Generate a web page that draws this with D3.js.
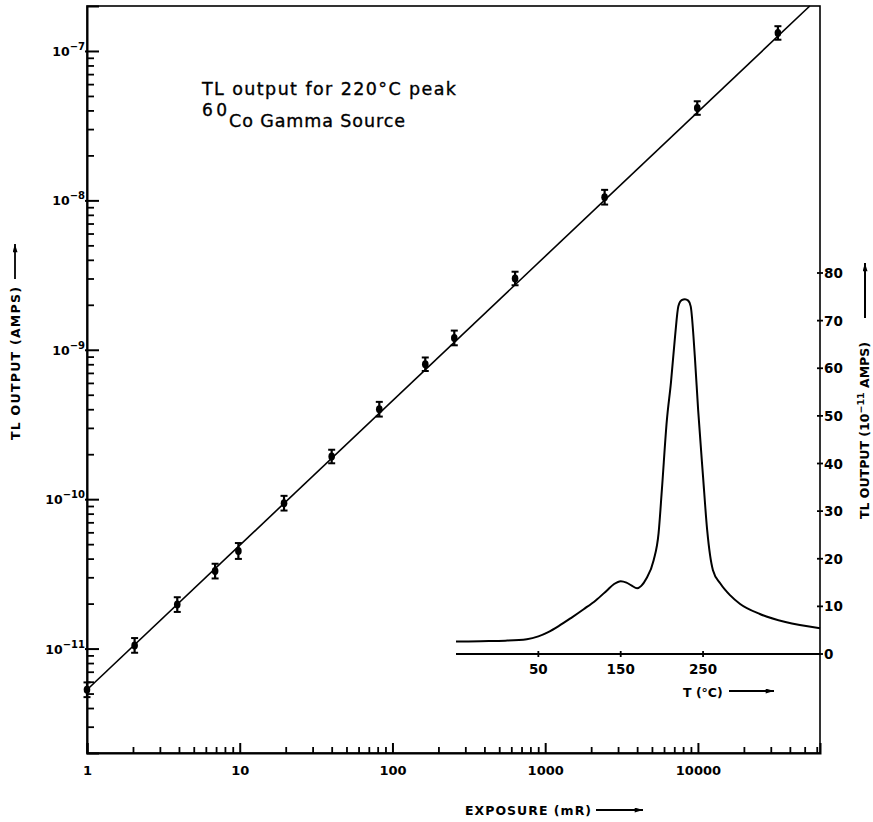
<!DOCTYPE html>
<html>
<head>
<meta charset="utf-8">
<script src="https://cdn.jsdelivr.net/npm/d3@7"></script>
<style>
  body { margin: 0; background: #fff; }
  svg { display: block; }
  text { font-family: "DejaVu Sans", sans-serif; fill: #000; }
</style>
</head>
<body>
<div id="chart"></div>
<script>
// exposure (mR) vs TL output (amps), 220 C peak
var exposure = [1, 2.05, 3.9, 6.9, 9.8, 19.5, 40, 82, 164, 254, 635, 2450, 9900, 33400];
var tlOutput = [5.3e-12, 1.05e-11, 1.97e-11, 3.3e-11, 4.5e-11, 9.4e-11, 1.93e-10, 4.0e-10, 8.0e-10, 1.2e-9, 3.0e-9, 1.05e-8, 4.15e-8, 1.32e-7];
var tlErr = [0.12, 0.12, 0.12, 0.12, 0.13, 0.12, 0.11, 0.12, 0.11, 0.12, 0.11, 0.12, 0.11, 0.11];

// fitted straight line (end points)
var fitX = [1, 54000];
var fitY = [5.3e-12, 2.0e-7];

// tick labels
var xTickVals = [1, 10, 100, 1000, 10000];
var yTickExp = [-7, -8, -9, -10, -11];

// inset glow curve: T (C) vs TL output (1e-11 amps)
var glowT = [-50, -20, 10, 36, 50, 62, 75, 90, 105, 120, 133, 142, 150, 157, 163, 170, 175, 181, 190, 196, 200, 206, 211, 216, 220, 224, 228, 232, 235, 240, 244, 250, 255, 262, 271, 283, 295, 319, 350, 392];
var glowV = [2.6, 2.7, 2.8, 3.1, 3.7, 4.6, 5.9, 7.6, 9.4, 11.3, 13.3, 14.7, 15.3, 15.0, 14.4, 13.8, 14.3, 15.8, 19.7, 25.4, 34.5, 49, 57, 66.7, 73, 74.3, 74.5, 74.2, 73, 62.5, 51.3, 37.2, 26, 17.6, 14.8, 12.3, 10.5, 8.4, 6.7, 5.4];
var insetTTicks = [50, 150, 250];
var insetVTicks = [0, 10, 20, 30, 40, 50, 60, 70, 80];

var width = 873, height = 822;
var plot = {left: 87, right: 820, top: 6, bottom: 753};

var svg = d3.select("#chart").append("svg")
    .attr("width", width)
    .attr("height", height);

// arrow head marker
svg.append("defs").append("marker")
    .attr("id", "arrow")
    .attr("viewBox", "0 0 10 6")
    .attr("refX", 10).attr("refY", 3)
    .attr("markerWidth", 11).attr("markerHeight", 5)
    .attr("markerUnits", "userSpaceOnUse")
    .attr("orient", "auto")
  .append("path")
    .attr("d", "M0,0 L10,3 L0,6 Z")
    .attr("fill", "#000");

// scales
var x = d3.scaleLog().domain([1, 63000]).range([plot.left, plot.right]);
var y = d3.scaleLog().domain([2e-12, 2e-7]).range([plot.bottom, plot.top]);

var xIn = d3.scaleLinear().domain([-50, 392]).range([456, plot.right]);
var yIn = d3.scaleLinear().domain([0, 80]).range([654, 273]);

// frame
svg.append("rect")
    .attr("x", plot.left).attr("y", plot.top)
    .attr("width", plot.right - plot.left)
    .attr("height", plot.bottom - plot.top)
    .attr("fill", "none")
    .attr("stroke", "#000")
    .attr("stroke-width", 1.6);

// minor tick values (2..9 per decade)
function minorTicks(lo, hi) {
  var out = [];
  for (var e = Math.floor(Math.log10(lo)); e <= Math.ceil(Math.log10(hi)); e++) {
    for (var m = 2; m <= 9; m++) {
      var v = m * Math.pow(10, e);
      if (v > lo && v < hi) out.push(v);
    }
  }
  return out;
}

// x axis
var xMajor = svg.append("g")
    .attr("transform", `translate(0, ${plot.bottom})`)
    .call(d3.axisBottom(x).tickValues(xTickVals).tickSize(-10).tickPadding(13)
      .tickFormat(d3.format("d")));
xMajor.select(".domain").attr("stroke-width", 2);
xMajor.selectAll(".tick line").attr("stroke-width", 2);
xMajor.selectAll("text")
    .style("font-size", "13px")
    .style("font-weight", "bold");

svg.append("g")
    .attr("transform", `translate(0, ${plot.bottom})`)
    .call(d3.axisBottom(x).tickValues(minorTicks(1, 63000)).tickSize(-6).tickFormat(""))
    .call(g => g.select(".domain").remove())
    .selectAll(".tick line").attr("stroke-width", 1.8);

// y axis
var yMajorVals = yTickExp.map(e => Math.pow(10, e));
var yMajor = svg.append("g")
    .attr("transform", `translate(${plot.left}, 0)`)
    .call(d3.axisLeft(y).tickValues(yMajorVals).tickSize(-12).tickFormat(""));
yMajor.select(".domain").attr("stroke-width", 2);
yMajor.selectAll(".tick line").attr("stroke-width", 2).attr("x2", 12).attr("x1", -2);

svg.append("g")
    .attr("transform", `translate(${plot.left}, 0)`)
    .call(d3.axisLeft(y).tickValues(minorTicks(2e-12, 2e-7)).tickSize(-7).tickFormat(""))
    .call(g => g.select(".domain").remove())
    .selectAll(".tick line").attr("stroke-width", 1.8);

// y tick labels with superscripts
var yLab = svg.append("g").selectAll("text")
    .data(yTickExp)
    .enter()
    .append("text")
    .attr("x", plot.left - 2)
    .attr("y", d => y(Math.pow(10, d)) + 5)
    .attr("text-anchor", "end")
    .style("font-size", "12.5px")
    .style("font-weight", "600");
yLab.append("tspan").text("10");
yLab.append("tspan")
    .attr("dy", -6)
    .style("font-size", "10px")
    .text(d => "\u2212" + (-d));

// fitted line
svg.append("path")
    .datum(fitX.map((d, i) => [d, fitY[i]]))
    .attr("d", d3.line().x(d => x(d[0])).y(d => y(d[1])))
    .attr("fill", "none")
    .attr("stroke", "#000")
    .attr("stroke-width", 1.6);

// data points with error bars
var pts = svg.append("g").selectAll("g")
    .data(exposure.map((d, i) => ({x: d, y: tlOutput[i], e: tlErr[i]})))
    .enter()
    .append("g");

pts.append("line")
    .attr("x1", d => x(d.x)).attr("x2", d => x(d.x))
    .attr("y1", d => y(d.y * (1 + d.e))).attr("y2", d => y(d.y / (1 + d.e)))
    .attr("stroke", "#000").attr("stroke-width", 2.2);
pts.append("line")
    .attr("x1", d => x(d.x) - 3.5).attr("x2", d => x(d.x) + 3.5)
    .attr("y1", d => y(d.y * (1 + d.e))).attr("y2", d => y(d.y * (1 + d.e)))
    .attr("stroke", "#000").attr("stroke-width", 2);
pts.append("line")
    .attr("x1", d => x(d.x) - 3.5).attr("x2", d => x(d.x) + 3.5)
    .attr("y1", d => y(d.y / (1 + d.e))).attr("y2", d => y(d.y / (1 + d.e)))
    .attr("stroke", "#000").attr("stroke-width", 2);
pts.append("ellipse")
    .attr("cx", d => x(d.x)).attr("cy", d => y(d.y))
    .attr("rx", 3.3).attr("ry", 4)
    .attr("fill", "#000");

// legend text
svg.append("text")
    .attr("x", 202).attr("y", 95)
    .attr("textLength", 254)
    .attr("lengthAdjust", "spacing")
    .style("font-size", "17.5px")
    .style("stroke", "#000")
    .style("stroke-width", 0.35)
    .text("TL  output for  220\u00B0C peak");
svg.append("text")
    .attr("x", 202).attr("y", 116)
    .attr("textLength", 25)
    .attr("lengthAdjust", "spacing")
    .style("font-size", "17px")
    .style("stroke", "#000")
    .style("stroke-width", 0.35)
    .text("60");
svg.append("text")
    .attr("x", 229).attr("y", 127)
    .attr("textLength", 176)
    .attr("lengthAdjust", "spacing")
    .style("font-size", "17.5px")
    .style("stroke", "#000")
    .style("stroke-width", 0.35)
    .text("Co Gamma Source");

// axis titles
svg.append("text")
    .attr("transform", "translate(20, 440) rotate(-90)")
    .style("font-size", "12.5px")
    .style("font-weight", "bold")
    .attr("textLength", 153)
    .attr("lengthAdjust", "spacing")
    .text("TL  OUTPUT (AMPS)");
svg.append("line")
    .attr("x1", 15).attr("y1", 279).attr("x2", 15).attr("y2", 244)
    .attr("stroke", "#000").attr("stroke-width", 1.8)
    .attr("marker-end", "url(#arrow)");

svg.append("text")
    .attr("x", 465).attr("y", 815)
    .style("font-size", "12.5px")
    .style("font-weight", "bold")
    .attr("textLength", 126)
    .attr("lengthAdjust", "spacing")
    .text("EXPOSURE (mR)");
svg.append("line")
    .attr("x1", 596).attr("y1", 810).attr("x2", 643).attr("y2", 810)
    .attr("stroke", "#000").attr("stroke-width", 1.8)
    .attr("marker-end", "url(#arrow)");

// inset: glow curve
var inset = svg.append("g");

inset.append("line")
    .attr("x1", xIn.range()[0]).attr("x2", xIn.range()[1])
    .attr("y1", yIn(0)).attr("y2", yIn(0))
    .attr("stroke", "#000").attr("stroke-width", 1.8);

inset.selectAll(".tt")
    .data(insetTTicks)
    .enter()
    .append("line")
    .attr("x1", d => xIn(d)).attr("x2", d => xIn(d))
    .attr("y1", yIn(0) - 3).attr("y2", yIn(0) + 3)
    .attr("stroke", "#000").attr("stroke-width", 1.8);

inset.selectAll(".tl")
    .data(insetTTicks)
    .enter()
    .append("text")
    .attr("x", d => xIn(d))
    .attr("y", yIn(0) + 20)
    .attr("text-anchor", "middle")
    .style("font-size", "13.5px")
    .style("font-weight", "bold")
    .text(d => d);

inset.selectAll(".vt")
    .data(insetVTicks)
    .enter()
    .append("line")
    .attr("x1", plot.right - 3).attr("x2", plot.right + 3)
    .attr("y1", d => yIn(d)).attr("y2", d => yIn(d))
    .attr("stroke", "#000").attr("stroke-width", 1.8);

inset.selectAll(".vl")
    .data(insetVTicks)
    .enter()
    .append("text")
    .attr("x", plot.right + 4)
    .attr("y", d => yIn(d) + 5)
    .style("font-size", "13.5px")
    .style("font-weight", "bold")
    .text(d => d);

inset.append("path")
    .datum(glowT.map((d, i) => [d, glowV[i]]))
    .attr("d", d3.line().curve(d3.curveMonotoneX).x(d => xIn(d[0])).y(d => yIn(d[1])))
    .attr("fill", "none")
    .attr("stroke", "#000")
    .attr("stroke-width", 2);

inset.append("text")
    .attr("x", 683).attr("y", 697)
    .style("font-size", "12.5px")
    .style("font-weight", "bold")
    .text("T (\u00B0C)");
inset.append("line")
    .attr("x1", 729).attr("y1", 691).attr("x2", 774).attr("y2", 691)
    .attr("stroke", "#000").attr("stroke-width", 1.8)
    .attr("marker-end", "url(#arrow)");

var rt = inset.append("text")
    .attr("transform", "translate(869, 519) rotate(-90)")
    .style("font-size", "12.5px")
    .style("font-weight", "bold");
rt.append("tspan").text("TL  OUTPUT (10");
rt.append("tspan").attr("dy", -5).style("font-size", "9.5px").text("\u221211");
rt.append("tspan").attr("dy", 5).text(" AMPS)");
inset.append("line")
    .attr("x1", 865).attr("y1", 318).attr("x2", 865).attr("y2", 263)
    .attr("stroke", "#000").attr("stroke-width", 2)
    .attr("marker-end", "url(#arrow)");
</script>
</body>
</html>
